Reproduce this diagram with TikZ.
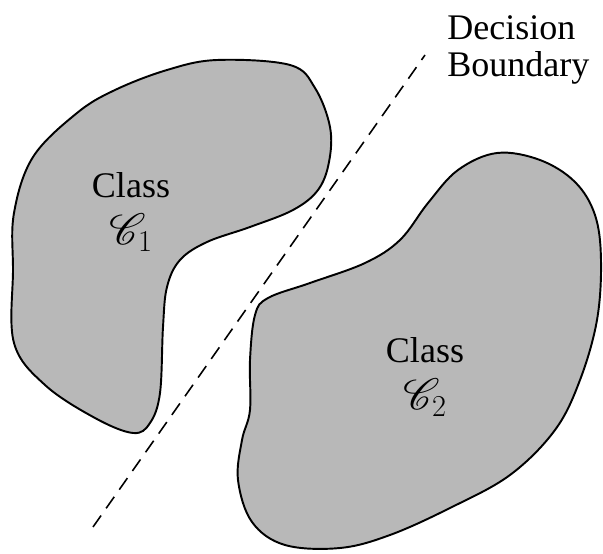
\documentclass[tikz,border=0pt]{standalone}
\usepackage{fontspec}
\setmainfont{Liberation Serif}
\usepackage{mathrsfs}
\usetikzlibrary{positioning}
\definecolor{cgray}{HTML}{B8B8B8}

\begin{document}
\begin{tikzpicture}[
	x=0.02cm, y=-0.02cm,
	% Estilo para las regiones de cada clase
	classregion/.style={
		draw=black,
		line width=1.1pt,
		fill=cgray
	},
	% Estilo para la frontera de decision
	boundaryline/.style={
		dash pattern=on 8pt off 5pt,
		line width=0.9pt
	},
	% Estilo para los textos
	classlabel/.style={
		align=center,
		inner sep=0pt,
		font=\fontsize{20.5}{21}\selectfont
	},
	% Estilo para el simbolo de la clase
	classsym/.style={
		inner sep=0pt,
		font=\fontsize{24}{24}\selectfont
	}
	]
	\useasboundingbox (0,0) rectangle (603,554);
	
	% --- Region de la clase 1 ---
	\draw[classregion] plot[smooth cycle, tension=0.6] coordinates {
		(217,60) (290,65) (315,88) (330,127) (329,162) (318,190)
		(293,210) (250,227) (207,242) (180,260) (167,287) (163,327)
		(160,393) (150,423) (133,433) (95,418) (45,385) (14,343)
		(13,270) (14,213) (33,157) (77,113) (115,90) (167,70)};
	
	% --- Region de la clase 2 ---
	\draw[classregion] plot[smooth cycle, tension=0.6] coordinates {
		(497,153) (540,160) (575,182) (595,215) (601,260) (597,320)
		(580,380) (555,430) (510,475) (450,508) (390,535) (340,548)
		(285,545) (252,522) (238,480) (242,440) (250,410) (250,360)
		(255,315) (268,298) (310,283) (365,263) (400,240) (428,203)
		(458,170)};
	
	% --- Frontera de decision ---
	\coordinate (dbstart) at (93,527);
	\coordinate (dbend) at (425,55);
	\draw[boundaryline] (dbstart) -- (dbend);
	
	% Etiquetas
	\node[classlabel, anchor=north] (class1) at (131,172) {Class};
	\node[classsym, below=9pt of class1] (class1sym) {$\mathscr{C}_{1}$};
	\node[classlabel, anchor=north] (class2) at (425,337) {Class};
	\node[classsym, below=9pt of class2] (class2sym) {$\mathscr{C}_{2}$};
	\node[classlabel, align=left, anchor=north west] (boundary) at (447,15)
		{Decision\\Boundary};
\end{tikzpicture}
\end{document}
